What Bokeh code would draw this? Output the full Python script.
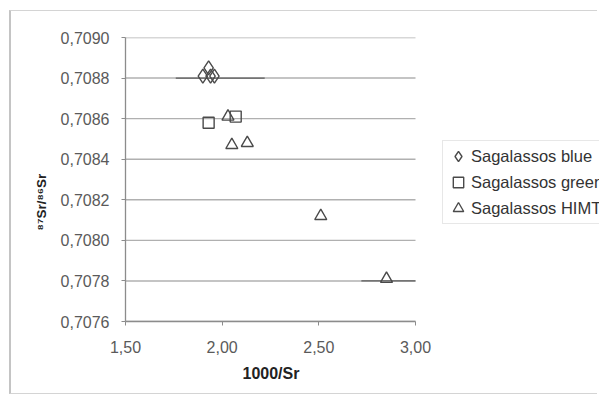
import numpy as np
from bokeh.plotting import figure
from bokeh.models import (Legend, LegendItem, CustomJSTickFormatter, FixedTicker,
                          Range1d, Title)
from bokeh.embed import file_html
from bokeh.resources import INLINE

# ---- data ----
blue_x = [1.93, 1.90, 1.94, 1.96]
blue_y = [0.70885, 0.70881, 0.70881, 0.70881]

green_x = [1.93, 2.07]
green_y = [0.70858, 0.70861]

himt_x = [2.03, 2.05, 2.13, 2.51, 2.85]
himt_y = [0.70861, 0.70847, 0.70848, 0.70812, 0.70781]

# horizontal error bars
err_x0 = [1.76, 2.72]
err_x1 = [2.22, 3.00]
err_y = [0.70880, 0.70780]

x_ticks = [1.5, 2.0, 2.5, 3.0]
y_ticks = [0.7076, 0.7078, 0.7080, 0.7082, 0.7084, 0.7086, 0.7088, 0.7090]

series_labels = ["Sagalassos blue", "Sagalassos green", "Sagalassos HIMT"]

FONT = "Liberation Sans"
MARK = "#4a4a4a"

# layout: the plotting area (1.5..3.0) is 290 px wide; the frame is extended
# to the right so that the legend can sit beside the plotting area
W, H = 588, 384
LEFT, TOP = 114, 26
AREA_W, AREA_H = 290, 284
BOTTOM = H - TOP - AREA_H
frame_w = W - LEFT
x_lo, x_hi = x_ticks[0], x_ticks[-1]
x_end = x_lo + (x_hi - x_lo) * frame_w / AREA_W

p = figure(width=W, height=H, output_backend="svg", toolbar_location=None,
           x_range=Range1d(x_lo, x_end), y_range=Range1d(y_ticks[0], y_ticks[-1]),
           min_border_left=LEFT, min_border_right=0, min_border_top=TOP,
           min_border_bottom=BOTTOM)
p.styles = {"margin-left": "9px", "margin-top": "10px",
            "border-left": "2px solid #c4c4c4", "border-top": "1px solid #d4d4d4",
            "border-bottom": "1px solid #d4d4d4"}
p.outline_line_color = None
p.background_fill_color = "white"
p.border_fill_color = "white"

p.xgrid.visible = False
p.ygrid.visible = False
# horizontal gridlines limited to the plotting area
p.segment(x0=[x_lo] * len(y_ticks), x1=[x_hi] * len(y_ticks), y0=y_ticks, y1=y_ticks,
          line_color="#b0b0b0", line_width=1.4)

p.xaxis.ticker = FixedTicker(ticks=x_ticks)
p.yaxis.ticker = FixedTicker(ticks=y_ticks)
p.xaxis.bounds = (x_lo, x_hi)
p.xaxis.formatter = CustomJSTickFormatter(code="return tick.toFixed(2).replace('.', ',');")
p.yaxis.formatter = CustomJSTickFormatter(code="return tick.toFixed(4).replace('.', ',');")

for ax in (p.xaxis[0], p.yaxis[0]):
    ax.axis_line_color = "#8c8c8c"
    ax.axis_line_width = 1.3
    ax.major_tick_line_color = "#8c8c8c"
    ax.major_tick_out = 4
    ax.major_tick_in = 0
    ax.minor_tick_line_color = None
    ax.major_label_text_font = FONT
    ax.major_label_text_font_size = "16px"
    ax.major_label_text_color = "#5a5a5a"

p.yaxis.major_label_standoff = 12
p.xaxis.major_label_standoff = 15

# x title centred on the plotting area (not on the extended frame)
xtitle = Title(text="1000/Sr", align="left", offset=AREA_W / 2 - 28, standoff=14,
               text_font=FONT, text_font_style="bold", text_font_size="16px",
               text_color="#222222")
p.add_layout(xtitle, "below")

ytitle = Title(text="⁸⁷Sr/⁸⁶Sr", align="left", offset=91, standoff=17,
               text_font=FONT, text_font_style="bold", text_font_size="13.5px",
               text_color="#222222")
p.add_layout(ytitle, "left")

# error bars
p.segment(x0=err_x0, x1=err_x1, y0=err_y, y1=err_y, line_color="#5a5a5a", line_width=1.2)

r_blue = p.scatter(blue_x, blue_y, marker="diamond", size=14, fill_color=None,
                   line_color=MARK, line_width=1.4)
r_green = p.scatter(green_x, green_y, marker="square", size=11, fill_color=None,
                    line_color=MARK, line_width=1.4)
r_himt = p.scatter(himt_x, himt_y, marker="triangle", size=12, fill_color=None,
                   line_color=MARK, line_width=1.4)

legend = Legend(items=[
    LegendItem(label=series_labels[0], renderers=[r_blue]),
    LegendItem(label=series_labels[1], renderers=[r_green]),
    LegendItem(label=series_labels[2], renderers=[r_himt]),
], location=(AREA_W + 27, 97))
legend.label_text_font = FONT
legend.label_text_font_size = "16.5px"
legend.label_text_color = "#333333"
legend.border_line_color = "#d0d0d0"
legend.background_fill_color = "white"
legend.glyph_width = 26
legend.glyph_height = 26
legend.label_height = 20
legend.label_standoff = 0
legend.spacing = 0
legend.padding = 2
legend.margin = 0
p.add_layout(legend, "center")

open("out.html", "w").write(file_html(p, INLINE))
